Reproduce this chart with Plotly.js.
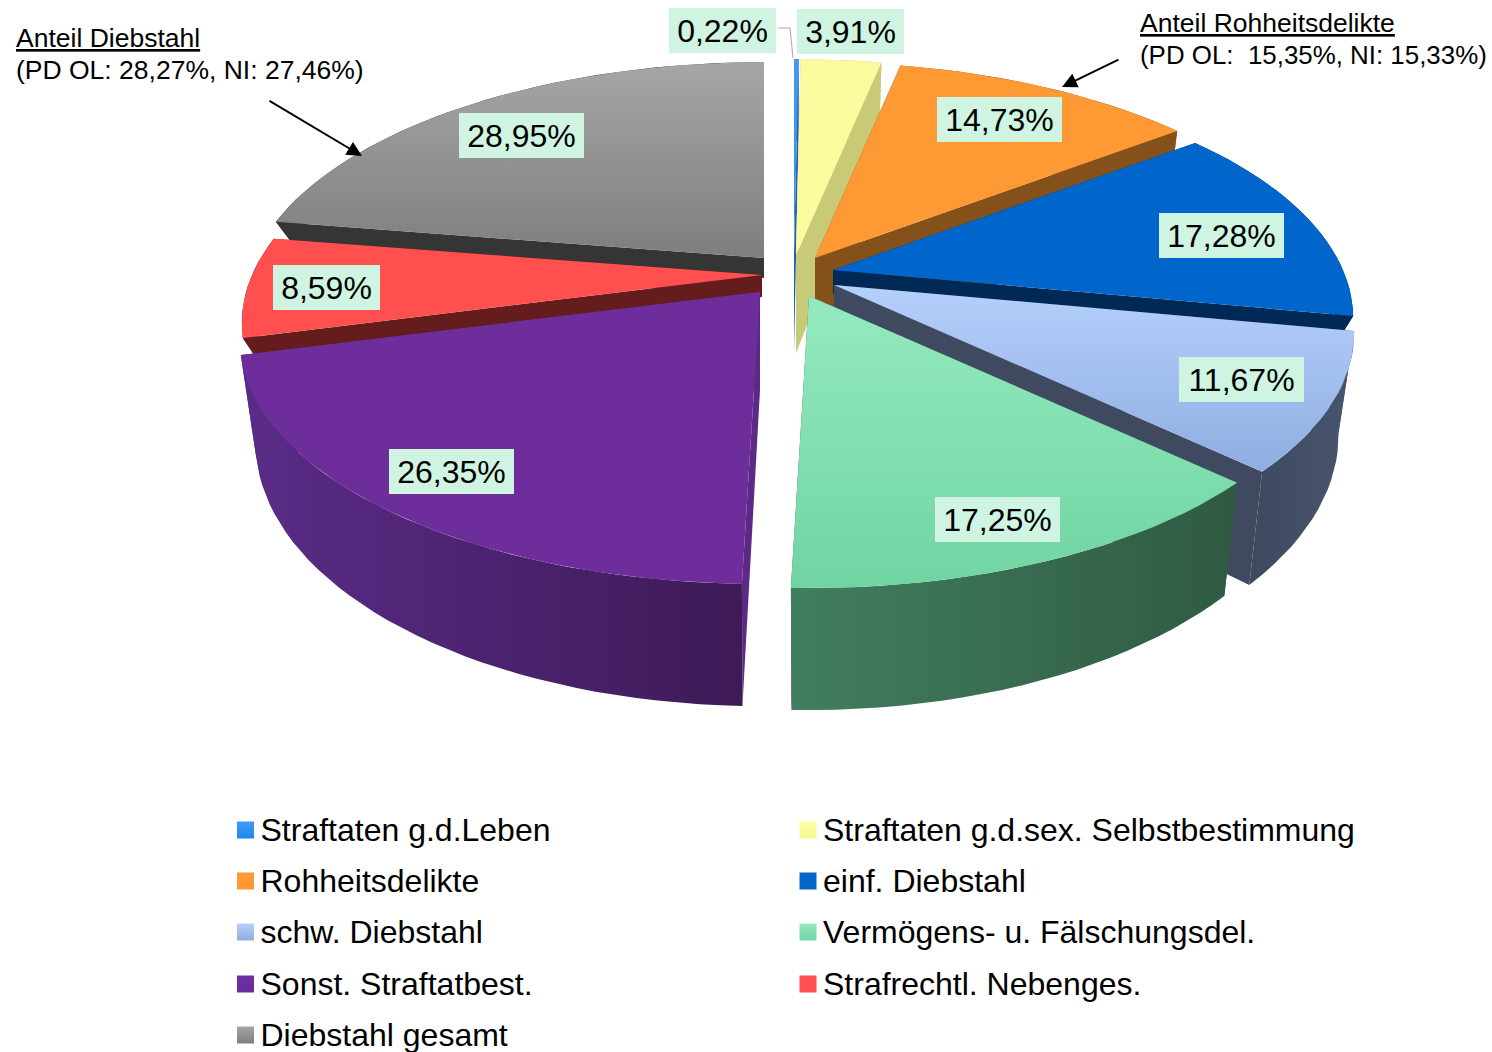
<!DOCTYPE html>
<html><head><meta charset="utf-8">
<script src="https://cdn.plot.ly/plotly-3.0.1.min.js"></script>
<style>html,body{margin:0;padding:0;background:#fff;overflow:hidden}</style>
</head><body><div id="chart" style="width:1492px;height:1052px"></div>
<script>
// ---- data ----
const categories = ["Straftaten g.d.Leben","Straftaten g.d.sex. Selbstbestimmung","Rohheitsdelikte","einf. Diebstahl","schw. Diebstahl","Vermögens- u. Fälschungsdel.","Sonst. Straftatbest.","Strafrechtl. Nebenges.","Diebstahl gesamt"];
const values = [0.22,3.91,14.73,17.28,11.67,17.25,26.35,8.59,28.95];

// ---- styles ----
const topColors = [["#3f9cf5","#2f8ff0"],["#fbfa9c","#fbfa9c"],["#ff9933","#ff9933"],["#0066cc","#0066cc"],["#b6d0fc","#8fade0"],["#94eabf","#70d4a2"],["#6d2d9b","#6d2d9b"],["#ff4f4f","#ff4f4f"],["#a6a6a6","#7e7e7e"]];
const faceColors = ["#1f60b0","#c9ca78","#85511a","#002a55","#3f4a61","#2f5a42","#5c2a85","#651c1c","#353535"];
const wallColors = [["#1f60b0","#1f60b0"],["#c9ca78","#c9ca78"],["#85511a","#85511a"],["#002a55","#002a55"],["#3e495f","#47556e"],["#417e60","#2f5a42"],["#5a2c88","#3e1a56"],["#651c1c","#651c1c"],["#353535","#353535"]];
const legendSwatch = [["#3f9cf5","#1f85ee"],["#fdfda6","#f8f890"],["#ff9933","#ff9933"],["#0066cc","#0066cc"],["#b6d0fc","#8fade0"],["#94eabf","#70d4a2"],["#7030a0","#6a2c9a"],["#ff4f4f","#ff4f4f"],["#a6a6a6","#7e7e7e"]];
// where each exploded slice's tip ends up
const slicePull = [[794,255],[796,255],[815,258],[833,270],[834,285],[809,296],[760,292],[762,275],[764,258]];
// thickness of each slice (the parts hidden behind a neighbour are kept short)
const sliceDepth = [98,98,98,24,98,98,98,22,20];
// centre of each value label
const labelCentre = [[722,30],[850,31],[999,119],[1221,235],[1241,379],[997,519],[451,471],[326,287],[521,135]];
const drawOrder = [8,7,6,0,1,2,3,4,5];
const labelBg = "#cff5e2";
const FONT = "Liberation Sans, Arial, sans-serif";

// ---- projection of the tilted disc ----
const RX = 510, RY = 234.5, PERSP = 0.197, BASE_SCALE = 0.97, STEP = 2;
const total = values.reduce((a,b)=>a+b,0);
function project(i, r, deg, low){
  const tip = slicePull[i];
  const t = deg*Math.PI/180, c = r*Math.cos(t), s = r*Math.sin(t);
  const w = 1 + PERSP*c;
  return [tip[0] + RX*s/w*(low ? BASE_SCALE : 1), tip[1] - RY*c/w + (low ? sliceDepth[i]/w : 0)];
}
function poly(pts, colors, type, name){
  return {type:"scatter", mode:"lines", x:pts.map(p=>p[0]), y:pts.map(p=>p[1]), fill:"toself",
    line:{width:0}, fillgradient:{type:type, colorscale:[[0,colors[0]],[1,colors[1]]]},
    hoverinfo:"skip", showlegend:false, name:name};
}
function solid(pts, color, name){
  return {type:"scatter", mode:"lines", x:pts.map(p=>p[0]), y:pts.map(p=>p[1]), fill:"toself",
    line:{width:0}, fillcolor:color, hoverinfo:"skip", showlegend:false, name:name};
}
const starts = []; let acc = 0;
values.forEach(v=>{starts.push(acc/total*360); acc += v;});

const traces = [];
drawOrder.forEach(i=>{
  const a0 = starts[i], a1 = a0 + values[i]/total*360;
  const angs = []; for(let a=a0; a<a1; a+=STEP) angs.push(a); angs.push(a1);
  const upper = angs.map(a=>project(i,1,a,false));
  const lower = angs.map(a=>project(i,1,a,true));
  [a0,a1].forEach(a=>{
    traces.push(solid([project(i,0,a,false),project(i,1,a,false),project(i,1,a,true),project(i,0,a,true)], faceColors[i], categories[i]+" face"));
  });
  traces.push(poly(upper.concat(lower.slice().reverse()), wallColors[i], "horizontal", categories[i]+" wall"));
  // colour scale of a vertical fill runs bottom to top
  traces.push(poly([project(i,0,a0,false)].concat(upper), [topColors[i][1],topColors[i][0]], "vertical", categories[i]));
});

// leader line of the 0,22% label
const leaderX = [778,790,793], leaderY = [28,28,58];
traces.push({type:"scatter",mode:"lines",x:leaderX,y:leaderY,line:{color:"#a6a6a6",width:1},hoverinfo:"skip",showlegend:false});

// legend, two columns
const legendColX = [245.5,808], legendRowY = [830,881,932,984,1035];
const legendTextGap = 15, legendTextDrop = 3;
categories.forEach((c,i)=>{
  const lx = legendColX[i%2], ly = legendRowY[Math.floor(i/2)];
  traces.push({type:"scatter",mode:"markers",cliponaxis:false,x:[lx],y:[ly],
    marker:{symbol:"square",size:17,color:legendSwatch[i][0],line:{width:0},gradient:{type:"vertical",color:legendSwatch[i][1]}},
    hoverinfo:"skip",showlegend:false});
  traces.push({type:"scatter",mode:"text",cliponaxis:false,x:[lx+legendTextGap],y:[ly+legendTextDrop],
    text:[c],textposition:"middle right",textfont:{family:FONT,size:32,color:"#000"},
    hoverinfo:"skip",showlegend:false});
});

const annotations = values.map((v,i)=>{
  const txt = v.toFixed(2).replace(".",",")+"%";
  return {x:labelCentre[i][0],y:labelCentre[i][1],xref:"x",yref:"y",text:txt,showarrow:false,
    bgcolor:labelBg,width:txt.length>5?125:107,height:45,borderpad:0,borderwidth:0,xanchor:"center",yanchor:"middle",
    font:{family:FONT,size:32,color:"#000"}};
});
const notes = [
  ["<u>Anteil Diebstahl</u>",14,38,26.5],
  ["(PD OL: 28,27%, NI: 27,46%)",14,70,26.5],
  ["<u>Anteil Rohheitsdelikte</u>",1138,23,26.5],
  ["(PD OL:\u00a0\u00a015,35%, NI: 15,33%)",1138,55,25.9]
];
notes.forEach(n=>annotations.push({x:n[1],y:n[2],xref:"x",yref:"y",text:n[0],showarrow:false,xanchor:"left",yanchor:"middle",
  font:{family:FONT,size:n[3],color:"#000"}}));
const arrows = [[362,156,268,100],[1062,87,1120,59]];
arrows.forEach(a=>annotations.push({x:a[0],y:a[1],ax:a[2],ay:a[3],xref:"x",yref:"y",axref:"x",ayref:"y",text:"",showarrow:true,
  arrowhead:2,arrowsize:1.5,arrowwidth:2,arrowcolor:"#000"}));

const layout = {
  width:1492,height:1052,margin:{l:0,r:0,t:0,b:0},paper_bgcolor:"#fff",plot_bgcolor:"#fff",showlegend:false,
  xaxis:{range:[0,1492],visible:false,fixedrange:true},
  yaxis:{range:[1052,0],visible:false,fixedrange:true},
  annotations:annotations
};
Plotly.newPlot("chart",traces,layout,{displayModeBar:false,staticPlot:true});
</script></body></html>
